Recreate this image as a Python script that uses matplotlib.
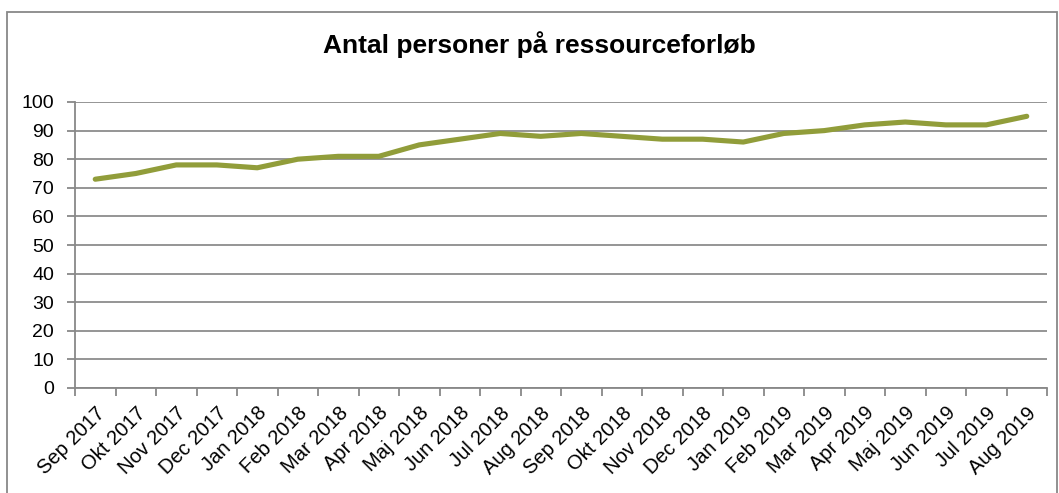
import matplotlib.pyplot as plt
from matplotlib.patches import Rectangle

months = ["Sep 2017", "Okt 2017", "Nov 2017", "Dec 2017", "Jan 2018", "Feb 2018",
          "Mar 2018", "Apr 2018", "Maj 2018", "Jun 2018", "Jul 2018", "Aug 2018",
          "Sep 2018", "Okt 2018", "Nov 2018", "Dec 2018", "Jan 2019", "Feb 2019",
          "Mar 2019", "Apr 2019", "Maj 2019", "Jun 2019", "Jul 2019", "Aug 2019"]
persons = [73, 75, 78, 78, 77, 80, 81, 81, 85, 87, 89, 88,
           89, 88, 87, 87, 86, 89, 90, 92, 93, 92, 92, 95]
yticks = list(range(0, 101, 10))

W, H = 1059, 493
plt.rcParams['font.family'] = ['Liberation Sans', 'DejaVu Sans']

fig = plt.figure(figsize=(W / 100, H / 100), dpi=100)
ax = fig.add_axes([75 / W, 1 - 388 / H, (1047 - 75) / W, (388 - 102) / H])

x = list(range(len(months)))
ax.plot(x, persons, color='#919d3a', lw=3.7, solid_capstyle='round', solid_joinstyle='round', zorder=3)

ax.set_xlim(-0.5, len(months) - 0.5)
ax.set_ylim(0, 100)
ax.set_yticks(yticks)
ax.tick_params(axis='y', labelsize=14, length=6, width=1.3, color='#888888', pad=9)
ax.set_xticks(x)
ax.set_xticklabels(months, rotation=45, ha='right', rotation_mode='anchor', fontsize=14.5)
ax.tick_params(axis='x', which='major', length=0, pad=11)
ax.set_xticks([i - 0.5 for i in range(len(months) + 1)], minor=True)
ax.tick_params(axis='x', which='minor', length=6, width=1.3, color='#888888')

ax.grid(axis='y', color='#8c8c8c', lw=1.3)
ax.set_axisbelow(True)
for s in ['top', 'right']:
    ax.spines[s].set_visible(False)
for s in ['left', 'bottom']:
    ax.spines[s].set_color('#888888')
    ax.spines[s].set_linewidth(1.3)

fig.text(539 / W, 1 - 45 / H, 'Antal personer på ressourceforløb', ha='center', va='center',
         fontsize=19, fontweight='bold')

fig.patches.append(Rectangle((7 / W, -0.1), (1057 - 7) / W, 1.1 - 12 / H, transform=fig.transFigure,
                             fill=False, edgecolor='#888888', lw=1.3))

fig.savefig('out.png', dpi=100)
